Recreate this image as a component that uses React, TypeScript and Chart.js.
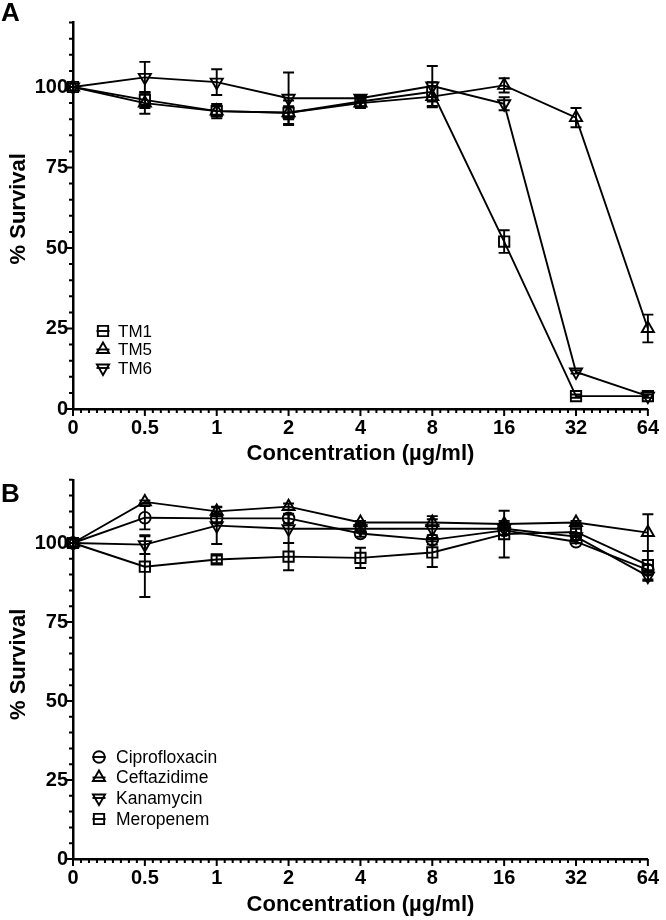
import React, { useEffect, useRef } from 'react';
import { Chart, registerables, PointElement } from 'chart.js';

Chart.register(...registerables);

// ---------- data ----------
const concentrations = ['0', '0.5', '1', '2', '4', '8', '16', '32', '64'];
const yMajorTicks = [0, 25, 50, 75, 100];
const yMax = 120;
const yMinorStep = 5;
const xMinorDivisions = 9;
const xAxisTitle = 'Concentration (µg/ml)';
const yAxisTitle = '% Survival';

// Panel A
const tm1Values = [100, 96, 92.5, 92, 95.5, 98.5, 52, 4, 4];
const tm1Errors = [0, 2.5, 2.2, 3.8, 1.5, 3, 3.5, 0.5, 0.5];
const tm5Values = [100, 95, 92.5, 92, 95, 97, 100.5, 90.5, 25];
const tm5Errors = [0, 3.3, 1.5, 2, 1.5, 3.3, 2.2, 3, 4.3];
const tm6Values = [100, 103, 101.5, 96.5, 96.5, 100.3, 94.8, 11.5, 4];
const tm6Errors = [0, 4.8, 4, 8, 1, 6.2, 2, 0.5, 0];

// Panel B
const ciproValues = [100, 108, 107.8, 107.8, 103, 101, 104, 100.4, 91.5];
const ciproErrors = [0, 3.7, 1.5, 1.5, 1, 1.5, 1.5, 0.5, 1.5];
const ceftaValues = [100, 113, 110, 111.5, 106.5, 106.5, 106, 106.5, 103.3];
const ceftaErrors = [0, 0.5, 1.5, 1, 0.5, 1, 1, 0.5, 5.8];
const kanaValues = [100, 99.5, 105.5, 104.5, 104.5, 104.5, 104.5, 102, 89.5];
const kanaErrors = [0, 3, 5.8, 4.5, 1, 4, 2, 1, 1.5];
const meroValues = [100, 92.5, 94.8, 95.7, 95.3, 97, 102.8, 103.5, 93];
const meroErrors = [0, 9.6, 1.2, 4.3, 3.2, 4.6, 7.4, 1, 4.5];

// ---------- styling / layout ----------
const FONT = "'Liberation Sans', Arial, Helvetica, sans-serif";
const INK = '#000';
const LINE_W = 1.9;

type Marker = 'square' | 'up' | 'down' | 'circle';

interface SeriesDef {
  label: string;
  values: number[];
  errors: number[];
  marker: Marker;
}

interface PanelDef {
  letter: string;
  top: number;
  height: number;
  padTop: number;
  xTitlePad: number;
  letterBaseline: number;
  yTitleShift: number;
  legend: { markerX: number; textX: number; rows: number[]; fontSize: number };
  series: SeriesDef[];
}

const markerStyle = (m: Marker) => {
  switch (m) {
    case 'square':
      return { pointStyle: 'rect', pointRotation: 0, pointRadius: 7.3 };
    case 'up':
      return { pointStyle: 'triangle', pointRotation: 0, pointRadius: 7 };
    case 'down':
      return { pointStyle: 'triangle', pointRotation: 180, pointRadius: 7 };
    default:
      return { pointStyle: 'circle', pointRotation: 0, pointRadius: 5.8 };
  }
};

const panels: PanelDef[] = [
  {
    letter: 'A',
    top: 0,
    height: 470,
    padTop: 22.6,
    xTitlePad: 2.8,
    letterBaseline: 21,
    yTitleShift: -7,
    legend: { markerX: 103, textX: 118, rows: [331, 349.5, 368], fontSize: 17 },
    series: [
      { label: 'TM1', values: tm1Values, errors: tm1Errors, marker: 'square' },
      { label: 'TM5', values: tm5Values, errors: tm5Errors, marker: 'up' },
      { label: 'TM6', values: tm6Values, errors: tm6Errors, marker: 'down' },
    ],
  },
  {
    letter: 'B',
    top: 460,
    height: 460,
    padTop: 19.8,
    xTitlePad: 1.8,
    letterBaseline: 42,
    yTitleShift: -5,
    legend: { markerX: 99, textX: 116, rows: [297, 317.5, 338, 359], fontSize: 17.5 },
    series: [
      { label: 'Ciprofloxacin', values: ciproValues, errors: ciproErrors, marker: 'circle' },
      { label: 'Ceftazidime', values: ceftaValues, errors: ceftaErrors, marker: 'up' },
      { label: 'Kanamycin', values: kanaValues, errors: kanaErrors, marker: 'down' },
      { label: 'Meropenem', values: meroValues, errors: meroErrors, marker: 'square' },
    ],
  },
];

// ---------- plugins ----------
const errorBarPlugin = {
  id: 'errorBars',
  beforeDatasetsDraw(chart: any) {
    const ctx = chart.ctx;
    const ys = chart.scales.y;
    ctx.save();
    ctx.strokeStyle = INK;
    ctx.lineWidth = LINE_W;
    chart.data.datasets.forEach((ds: any, i: number) => {
      const meta = chart.getDatasetMeta(i);
      meta.data.forEach((pt: any, j: number) => {
        const e = ds.errors[j];
        if (!e) return;
        const v = ds.data[j].y;
        const yt = ys.getPixelForValue(v + e);
        const yb = ys.getPixelForValue(v - e);
        ctx.beginPath();
        ctx.moveTo(pt.x, yt);
        ctx.lineTo(pt.x, yb);
        ctx.moveTo(pt.x - 5.5, yt);
        ctx.lineTo(pt.x + 5.5, yt);
        ctx.moveTo(pt.x - 5.5, yb);
        ctx.lineTo(pt.x + 5.5, yb);
        ctx.stroke();
      });
    });
    ctx.restore();
  },
};

const axisTicksPlugin = {
  id: 'axisTicks',
  afterDraw(chart: any) {
    const { ctx, chartArea } = chart;
    const xs = chart.scales.x;
    const ys = chart.scales.y;
    ctx.save();
    ctx.strokeStyle = INK;
    ctx.lineWidth = 2;
    ctx.beginPath();
    for (let v = 0; v <= yMax; v += yMinorStep) {
      const py = ys.getPixelForValue(v);
      const major = yMajorTicks.includes(v);
      const len = major ? 7 : 4;
      ctx.moveTo(chartArea.left - len, py);
      ctx.lineTo(chartArea.left, py);
    }
    const n = concentrations.length;
    for (let i = 0; i < n; i++) {
      const px = xs.getPixelForValue(i);
      ctx.moveTo(px, chartArea.bottom);
      ctx.lineTo(px, chartArea.bottom + 7);
      if (i < n - 1) {
        for (let k = 1; k < xMinorDivisions; k++) {
          const mx = xs.getPixelForValue(i + k / xMinorDivisions);
          ctx.moveTo(mx, chartArea.bottom);
          ctx.lineTo(mx, chartArea.bottom + 4);
        }
      }
    }
    ctx.stroke();
    ctx.restore();
  },
};

const insetLegendPlugin = {
  id: 'insetLegend',
  afterDraw(chart: any, _args: any, opts: any) {
    const ctx = chart.ctx;
    ctx.save();
    chart.data.datasets.forEach((ds: any, i: number) => {
      const y = opts.rows[i];
      ctx.strokeStyle = INK;
      ctx.lineWidth = LINE_W;
      ctx.beginPath();
      ctx.moveTo(opts.markerX - 6.5, y);
      ctx.lineTo(opts.markerX + 6.5, y);
      ctx.stroke();
      const meta = chart.getDatasetMeta(i);
      const el: any = new (PointElement as any)({ x: opts.markerX, y, options: meta.data[0].options });
      el.draw(ctx);
      ctx.fillStyle = INK;
      ctx.font = `${opts.fontSize}px ${FONT}`;
      ctx.textAlign = 'left';
      ctx.textBaseline = 'middle';
      ctx.fillText(ds.label, opts.textX, y + 1);
    });
    ctx.restore();
  },
};

const panelTextPlugin = {
  id: 'panelText',
  afterDraw(chart: any, _args: any, opts: any) {
    const { ctx, chartArea } = chart;
    ctx.save();
    ctx.fillStyle = INK;
    ctx.font = `bold 26px ${FONT}`;
    ctx.textAlign = 'left';
    ctx.textBaseline = 'alphabetic';
    ctx.fillText(opts.letter, 1, opts.baseline);
    // y-axis title
    ctx.translate(19, (chartArea.top + chartArea.bottom) / 2 + opts.yTitleShift);
    ctx.rotate(-Math.PI / 2);
    ctx.font = `bold 22px ${FONT}`;
    ctx.textAlign = 'center';
    ctx.textBaseline = 'middle';
    ctx.fillText(yAxisTitle, 0, 0);
    ctx.restore();
  },
};

// ---------- components ----------
function Panel({ def }: { def: PanelDef }) {
  const ref = useRef<HTMLCanvasElement>(null);

  useEffect(() => {
    const canvas = ref.current;
    if (!canvas) return;
    const xAxisHeight = 61;
    const chart = new Chart(canvas, {
      type: 'line',
      data: {
        datasets: def.series.map((s) => ({
          label: s.label,
          data: s.values.map((v, i) => ({ x: i, y: v })),
          errors: s.errors,
          borderColor: INK,
          borderWidth: LINE_W,
          backgroundColor: 'rgba(0,0,0,0)',
          pointBorderColor: INK,
          pointBackgroundColor: 'rgba(0,0,0,0)',
          pointBorderWidth: LINE_W,
          tension: 0,
          clip: false,
          ...markerStyle(s.marker),
        })) as any,
      },
      options: {
        animation: false,
        responsive: false,
        devicePixelRatio: 1,
        layout: { padding: { top: def.padTop, right: 11, bottom: 0, left: 0 } },
        plugins: {
          legend: { display: false },
          tooltip: { enabled: false },
          insetLegend: def.legend,
          panelText: { letter: def.letter, baseline: def.letterBaseline, yTitleShift: def.yTitleShift },
        } as any,
        scales: {
          x: {
            type: 'linear',
            min: 0,
            max: concentrations.length - 1,
            afterBuildTicks: (s: any) => {
              s.ticks = concentrations.map((_, i) => ({ value: i }));
            },
            afterFit: (s: any) => {
              s.height = xAxisHeight;
            },
            ticks: {
              autoSkip: false,
              maxRotation: 0,
              padding: 7,
              color: INK,
              font: { family: FONT, size: 20, weight: 'bold' },
              callback: (v: any) => concentrations[Math.round(Number(v))],
            },
            grid: { display: false, drawTicks: false },
            border: { display: true, color: INK, width: 2.5 },
            title: {
              display: true,
              text: xAxisTitle,
              color: INK,
              font: { family: FONT, size: 22, weight: 'bold' },
              padding: { top: 0, bottom: def.xTitlePad },
            },
          },
          y: {
            type: 'linear',
            min: 0,
            max: yMax,
            afterBuildTicks: (s: any) => {
              s.ticks = yMajorTicks.map((v) => ({ value: v }));
            },
            afterFit: (s: any) => {
              s.width = 73;
            },
            ticks: {
              padding: 5,
              color: INK,
              font: { family: FONT, size: 20, weight: 'bold' },
            },
            grid: { display: false, drawTicks: false },
            border: { display: true, color: INK, width: 2.5 },
            title: { display: false },
          },
        } as any,
      },
      plugins: [errorBarPlugin, axisTicksPlugin, insetLegendPlugin, panelTextPlugin],
    } as any);
    return () => chart.destroy();
  }, [def]);

  return (
    <canvas
      ref={ref}
      width={666}
      height={def.height}
      style={{ position: 'absolute', left: 0, top: def.top, width: 666, height: def.height }}
    />
  );
}

export default function App() {
  return (
    <div style={{ position: 'absolute', left: 0, top: 0, width: 666, height: 920, background: '#fff', overflow: 'hidden' }}>
      {panels.map((p) => (
        <Panel key={p.letter} def={p} />
      ))}
    </div>
  );
}
